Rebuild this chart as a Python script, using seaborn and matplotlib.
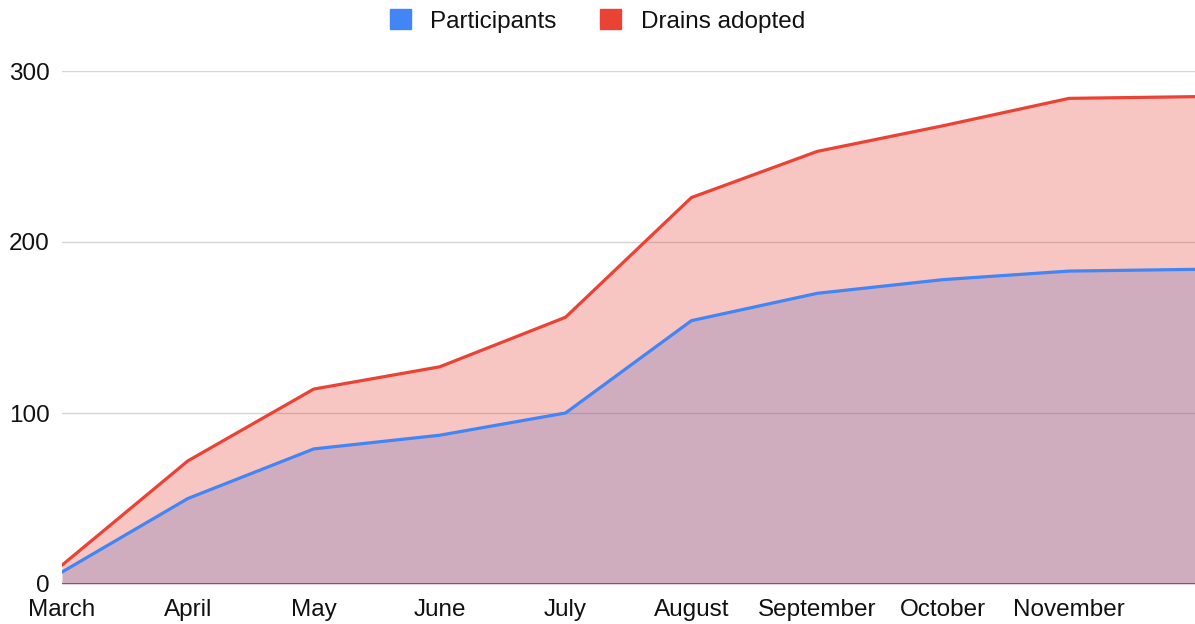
import numpy as np
import pandas as pd
import matplotlib
matplotlib.use("Agg")
import matplotlib.pyplot as plt
import seaborn as sns
from matplotlib.patches import Patch

# data
months = ["March", "April", "May", "June", "July", "August",
          "September", "October", "November", "December"]
tick_labels = ["March", "April", "May", "June", "July", "August",
               "September", "October", "November"]
participants = [7, 50, 79, 87, 100, 154, 170, 178, 183, 184]
drains = [11, 72, 114, 127, 156, 226, 253, 268, 284, 285]

blue = "#4285F4"
red = "#EA4335"

sns.set_theme(style="white")
plt.rcParams["font.family"] = ["Liberation Sans", "DejaVu Sans"]

df = pd.DataFrame({"x": np.arange(len(months)),
                   "Participants": participants,
                   "Drains adopted": drains})

fig = plt.figure(figsize=(11.95, 6.24), dpi=100)
ax = fig.add_axes([62 / 1195, 40 / 624, 1133 / 1195, 513 / 624])

# grid under the areas
for y in [100, 200, 300]:
    ax.axhline(y, color="#d4d4d4", lw=1, zorder=0.5)

# filled areas (red drawn over blue)
ax.fill_between(df["x"], 0, df["Participants"], color=blue, alpha=0.3, lw=0, zorder=1)
ax.fill_between(df["x"], 0, df["Drains adopted"], color=red, alpha=0.3, lw=0, zorder=2)

sns.lineplot(data=df, x="x", y="Participants", color=blue, lw=2.3, ax=ax, zorder=4)
sns.lineplot(data=df, x="x", y="Drains adopted", color=red, lw=2.3, ax=ax, zorder=4)

ax.set_xlim(0, len(months) - 1)
ax.set_ylim(0, 300)
ax.set_yticks([0, 100, 200, 300])
ax.set_xticks(np.arange(len(tick_labels)))
ax.set_xticklabels(tick_labels)
ax.set_xlabel("")
ax.set_ylabel("")

ax.axhline(0, color="#555555", lw=1.2, zorder=5)

for s in ax.spines.values():
    s.set_visible(False)
ax.tick_params(axis="both", length=0, labelsize=17.5, colors="#111111")
ax.tick_params(axis="x", pad=10.5)
ax.tick_params(axis="y", pad=9)

handles = [Patch(color=blue, label="Participants"),
           Patch(color=red, label="Drains adopted")]
fig.legend(handles=handles, loc="center", bbox_to_anchor=(0.5, 1 - 21 / 624),
           ncol=2, frameon=False, fontsize=17.5, handlelength=0.85, handleheight=0.85,
           handletextpad=0.8, columnspacing=1.8, labelcolor="#111111")

fig.savefig("out.png", dpi=100)
